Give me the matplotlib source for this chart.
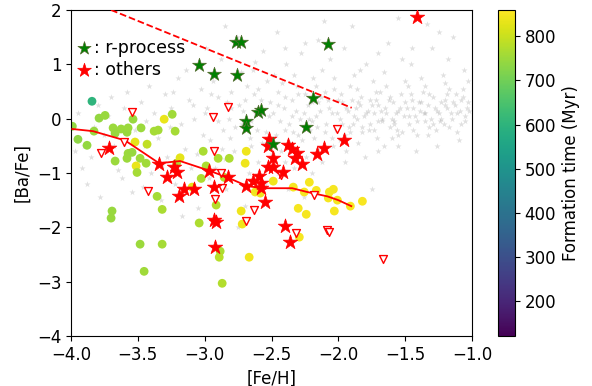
import matplotlib
matplotlib.use("Agg")
import matplotlib.pyplot as plt
import numpy as np

# background halo sample ([Fe/H], [Ba/Fe])
bg_feh = [-3.95, -3.9, -3.85, -3.92, -3.8, -3.75, -3.7, -3.65, -3.6, -3.55, -3.88, -3.78, -3.62, -3.58, -3.52, -3.72, -3.83, -3.97, -3.68, -3.54,
          -3.48, -3.45, -3.42, -3.4, -3.38, -3.35, -3.33, -3.3, -3.28, -3.25, -3.22, -3.2, -3.18, -3.15, -3.12, -3.1, -3.08, -3.05, -3.03, -3.01,
          -3.46, -3.36, -3.26, -3.14, -3.06, -3.44, -3.32, -3.17, -3.09, -3.24,
          -2.98, -2.96, -2.94, -2.92, -2.9, -2.88, -2.86, -2.84, -2.82, -2.8, -2.78, -2.76, -2.74, -2.72, -2.7, -2.68, -2.66, -2.64, -2.62, -2.6,
          -2.58, -2.56, -2.54, -2.52, -2.97, -2.93, -2.87, -2.83, -2.77, -2.73, -2.67, -2.63, -2.57, -2.53, -2.99, -2.85, -2.75, -2.65, -2.55, -2.95,
          -2.81, -2.71, -2.61, -2.51,
          -2.49, -2.47, -2.45, -2.43, -2.41, -2.39, -2.37, -2.35, -2.33, -2.31, -2.29, -2.27, -2.25, -2.23, -2.21, -2.19, -2.17, -2.15, -2.13, -2.11,
          -2.09, -2.07, -2.05, -2.03, -2.01, -2.48, -2.44, -2.4, -2.36, -2.32, -2.28, -2.24, -2.2, -2.16, -2.12, -2.08, -2.04, -2.46, -2.38, -2.3,
          -2.22, -2.14, -2.06, -2.42, -2.34, -2.26, -2.18, -2.1, -2.02, -2.45, -2.26, -2.12,
          -1.99, -1.97, -1.95, -1.93, -1.91, -1.89, -1.87, -1.85, -1.83, -1.81, -1.79, -1.77, -1.75, -1.73, -1.71, -1.69, -1.67, -1.65, -1.63, -1.61,
          -1.59, -1.57, -1.55, -1.53, -1.51, -1.98, -1.94, -1.9, -1.86, -1.82, -1.78, -1.74, -1.7, -1.66, -1.62, -1.58, -1.54, -1.96, -1.88, -1.8,
          -1.72, -1.64, -1.56, -1.52, -1.92, -1.84, -1.76, -1.68, -1.6, -1.75, -1.9,
          -1.49, -1.47, -1.45, -1.43, -1.41, -1.39, -1.37, -1.35, -1.33, -1.31, -1.29, -1.27, -1.25, -1.23, -1.21, -1.19, -1.17, -1.15, -1.13, -1.11,
          -1.09, -1.07, -1.05, -1.03, -1.48, -1.44, -1.4, -1.36, -1.32, -1.28, -1.24, -1.2, -1.16, -1.12, -1.08, -1.04, -1.46, -1.38, -1.3, -1.22,
          -1.14, -1.06, -1.42, -1.26, -1.1, -1.34, -1.18,
          -2.45, -2.4, -2.35, -2.3, -2.25, -2.2, -2.15, -2.1, -2.05, -2.0, -1.97, -1.94, -1.91, -1.88, -1.85, -1.82, -1.79, -1.76, -1.73, -1.7,
          -1.67, -1.64, -1.61, -1.58, -1.55, -1.52, -1.5, -1.47, -1.44, -1.41, -1.38, -1.35, -1.32, -1.29, -1.26, -1.23, -1.2, -1.17, -1.14, -1.11,
          -1.08, -1.05, -1.02, -1.99, -1.86, -1.72, -1.6, -1.46, -1.33, -1.19, -1.07, -2.33, -2.17, -2.03, -1.84, -1.66, -1.5, -1.35, -1.2, -1.03,
          -2.6, -2.7, -2.8, -2.9, -3.0, -2.65, -2.85, -2.5, -2.4, -2.2, -1.95, -1.7, -1.55, -2.62, -2.4, -2.15, -1.7, -1.45, -1.25, -1.55]
bg_bafe = [0.1, -0.5, -0.7, -0.9, 0.25, -0.3, 0.4, -0.95, 0.2, -0.6, -1.2, -1.45, -1.1, 0.5, -0.2, 0.05, -0.15, -0.6, -0.5, -1.35,
           0.3, -0.5, 0.6, -1.0, 0.1, -0.35, -1.5, 0.45, -0.7, 0.2, -1.2, 0.75, -0.1, -0.55, 0.35, -0.9, 0.0, -1.65, 0.55, -0.3,
           -1.25, 0.85, -0.15, 0.9, -0.65, -0.05, -0.85, -1.8, 0.25, 0.5,
           0.2, -0.4, 0.7, -0.9, 0.4, 1.1, -0.2, -1.3, 0.0, 0.5, -0.6, 1.5, 0.25, -0.1, -1.6, 0.6, -0.35, 0.9, 0.1, -0.8,
           0.35, 1.25, -0.25, 0.05, -1.1, 0.05, -0.55, 0.3, -0.15, 0.85, -1.0, 0.45, -0.45, 0.7, 1.3, 1.7, -2.0, -0.05, -1.2, 0.45,
           -0.35, 0.15, -0.2, 0.3,
           0.1, -0.3, 0.5, -0.6, 0.2, 1.0, -0.1, 0.35, -0.9, 0.6, 0.0, -0.4, 1.4, 0.25, -0.2, 0.75, 0.05, -0.55, 0.4, 1.8,
           -0.1, 0.2, -0.35, 0.55, 0.1, 0.8, -0.05, 0.4, -0.45, 0.15, 1.2, -0.7, 0.3, -0.15, 0.9, 0.35, -0.5, 1.6, -1.3, 0.45,
           0.0, 0.15, 1.1, 0.65, -0.25, 0.1, -0.35, 0.5, -0.2, -1.0, -1.45, -0.8,
           0.0, 0.3, -0.3, 0.15, 0.6, -0.1, 0.2, -0.45, 0.4, 0.05, 1.0, -0.2, 0.25, 0.1, -0.35, 0.5, 0.0, 0.2, 1.4, -0.15,
           0.3, 0.1, -0.3, 0.45, 0.05, 0.45, -0.6, 0.35, 0.0, -0.25, 0.15, 0.7, -0.05, -0.5, 0.35, -0.05, 0.2, 1.3, 0.8, -0.7,
           0.35, 0.6, -0.2, 1.1, -0.15, 0.25, -0.1, 0.15, 0.0, -1.3, 1.7,
           0.2, -0.1, 0.35, 0.05, -0.3, 0.15, 0.5, -0.05, 0.25, 0.0, 0.4, -0.2, 0.1, 0.3, -0.1, 0.2, 0.55, 0.0, 0.25, -0.25,
           0.15, 0.4, 0.05, 0.3, 0.6, -0.2, 0.3, 0.1, -0.15, 0.2, -0.05, 0.35, 0.1, 0.45, -0.1, 0.2, 1.0, 0.75, 1.3, 0.8,
           1.5, 0.9, -0.6, -0.5, -0.4, 1.75, 1.1,
           0.25, -0.2, 0.05, -0.3, 0.45, -0.05, 0.3, -0.25, 0.1, 0.35, -0.1, 0.2, -0.25, 0.05, 0.3, -0.15, 0.1, 0.35, -0.2, 0.25,
           -0.05, 0.1, 0.4, -0.1, 0.15, -0.25, 0.3, 0.05, 0.2, -0.05, 0.3, 0.1, 0.45, -0.1, 0.15, 0.0, 0.25, -0.15, 0.3, 0.1,
           0.35, -0.05, 0.15, -0.4, 0.55, 0.5, -0.35, 0.45, -0.3, 0.45, 0.55, 0.8, 0.6, 0.75, 0.9, 0.85, 0.7, 0.6, 0.65, 0.7,
           0.55, 0.35, 0.2, -0.05, 0.1, -0.5, -0.75, -0.65, -0.8, -1.0, -0.8, -0.6, -0.5, 1.05, 1.3, 1.45, 1.2, 1.3, 1.6, 1.85]

# dwarf stars with measured Ba, coloured by formation time
dw_feh = [-3.843, -3.79, -3.745, -3.99, -3.948, -3.88, -3.828, -3.685, -3.67, -3.625, -3.581, -3.573, -3.536, -3.476, -3.431, -3.521,
          -3.573, -3.543, -3.581, -3.483, -3.438, -3.513, -3.506, -3.67, -3.378, -3.348, -3.303, -3.243, -3.221, -3.21, -3.184,
          -3.011, -2.689, -2.899, -2.816, -2.697, -2.989, -3.026, -3.094, -2.854, -2.622, -2.584, -2.487, -3.356, -3.318, -3.693,
          -3.7, -3.483, -3.318, -3.453, -3.041, -2.914, -2.884, -2.891, -2.869, -2.727, -2.719, -2.667, -2.337, -2.217, -2.165,
          -2.255, -2.067, -2.037, -2.075, -2.007, -2.03, -1.91, -1.82, -2.3, -2.24, -2.292]
dw_bafe = [0.32, 0.01, 0.06, -0.14, -0.38, -0.49, -0.23, -0.17, -0.27, -0.19, -0.25, -0.17, -0.01, -0.17, -0.47, -0.43,
           -0.64, -0.62, -0.73, -0.73, -0.82, -0.87, -0.99, -0.78, -0.23, -0.21, -0.01, 0.08, -0.23, -0.82, -0.72,
           -0.6, -0.6, -0.73, -0.73, -0.82, -0.87, -1.1, -1.26, -1.08, -1.35, -1.37, -1.15, -1.43, -1.67, -1.7,
           -1.83, -2.31, -2.31, -2.81, -1.92, -1.59, -2.44, -2.55, -3.03, -1.7, -1.94, -2.55, -1.26, -1.17, -1.32,
           -1.35, -1.35, -1.3, -1.46, -1.5, -1.7, -1.61, -1.52, -1.65, -1.76, -2.18]
dw_time = [600, 740, 745, 740, 735, 740, 745, 750, 745, 750, 745, 750, 745, 750, 790, 830,
           750, 745, 750, 755, 755, 835, 760, 750, 760, 760, 835, 755, 760, 765, 830,
           765, 840, 770, 770, 840, 770, 770, 830, 775, 845, 845, 845, 760, 765, 745,
           745, 750, 760, 755, 770, 775, 770, 780, 775, 840, 840, 845, 850, 850, 850,
           850, 850, 850, 850, 850, 850, 852, 852, 850, 850, 850]

# r-process enhanced stars
rp_feh = [-3.041, -2.929, -2.757, -2.764, -2.727, -2.075, -2.187, -2.599, -2.577, -2.689, -2.689, -2.24, -2.487]
rp_bafe = [0.985, 0.82, 0.8, 1.41, 1.41, 1.37, 0.38, 0.12, 0.16, -0.05, -0.17, -0.16, -0.47]

# other stars
ot_feh = [-1.408, -3.715, -3.341, -3.228, -3.206, -3.281, -3.154, -3.079, -3.191, -2.966, -2.824, -2.929, -2.929, -2.914,
          -2.921, -2.689, -2.637, -2.592, -2.577, -2.577, -2.517, -2.524, -2.487, -2.524, -2.487, -2.412, -2.375, -2.345,
          -2.307, -2.322, -2.27, -2.157, -2.105, -1.955, -2.547, -2.397, -2.36]
ot_bafe = [1.87, -0.54, -0.84, -0.89, -0.99, -1.08, -1.3, -1.3, -1.43, -0.97, -1.08, -1.26, -1.87, -1.91,
           -2.37, -1.24, -1.15, -1.06, -1.19, -1.28, -0.38, -0.51, -0.73, -0.89, -0.89, -0.99, -0.49, -0.56,
           -0.64, -0.73, -0.84, -0.65, -0.54, -0.4, -1.54, -1.98, -2.27]

# upper limits
ul_feh = [-3.543, -3.775, -3.603, -2.936, -2.824, -2.929, -3.423, -2.876, -2.921, -2.869, -2.007, -2.629, -2.689,
          -2.18, -2.427, -2.315, -2.082, -2.067, -1.663]
ul_bafe = [0.12, -0.63, -0.43, 0.03, 0.21, -0.6, -1.34, -1.0, -1.48, -1.28, -0.19, -1.69, -1.89,
           -1.41, -1.04, -2.11, -2.04, -2.09, -2.59]

# running mean
run_feh = [-3.99, -3.835, -3.596, -3.341, -3.184, -2.974, -2.831, -2.682, -2.569, -2.345, -2.232, -2.082, -2.0, -1.903]
run_bafe = [-0.19, -0.23, -0.4, -0.82, -0.78, -0.95, -1.08, -1.24, -1.28, -1.28, -1.35, -1.43, -1.5, -1.61]

# dividing line
cut_feh = [-3.7, -1.9]
cut_bafe = [2.0, 0.2]

fig = plt.figure(figsize=(5.92, 3.86), dpi=100)
ax = fig.add_axes([71/592, 50/386, 401/592, 326/386])
cax = fig.add_axes([498/592, 50/386, 17/592, 326/386])

ax.scatter(bg_feh, bg_bafe, marker='*', s=22, color='0.6', alpha=0.3, linewidths=0, zorder=1)
sc = ax.scatter(dw_feh, dw_bafe, c=dw_time, cmap='viridis', vmin=120, vmax=860, s=40, linewidths=0, zorder=2)
ax.plot(run_feh, run_bafe, color='red', lw=1.3, zorder=3)
ax.plot(cut_feh, cut_bafe, color='red', ls='--', lw=1.3, zorder=3)
ax.scatter(ul_feh, ul_bafe, marker='v', s=32, facecolors='white', edgecolors='red', linewidths=1, zorder=4)
ax.scatter(ot_feh, ot_bafe, marker='*', s=120, color='red', linewidths=0.5, zorder=5, label=': others')
ax.scatter(rp_feh, rp_bafe, marker='*', s=110, color='green', edgecolors='darkolivegreen', linewidths=0.5, zorder=5,
           label=': r-process')

ax.set_xlim(-4, -1)
ax.set_ylim(-4, 2)
ax.set_xticks(np.arange(-4, -0.9, 0.5))
ax.set_yticks(np.arange(-4, 2.1, 1))
ax.tick_params(labelsize=12)
ax.set_xlabel('[Fe/H]', fontsize=12)
ax.set_ylabel('[Ba/Fe]', fontsize=12)

h, l = ax.get_legend_handles_labels()
ax.legend(h[::-1], l[::-1], loc='upper left', bbox_to_anchor=(-0.025, 0.96), frameon=False, fontsize=12.5,
          handlelength=0.8, handletextpad=0.2, markerscale=0.95, labelspacing=0.25)

cb = fig.colorbar(sc, cax=cax)
cb.set_label('Formation time (Myr)', fontsize=12)
cb.ax.tick_params(labelsize=12)
cb.set_ticks([200, 300, 400, 500, 600, 700, 800])

fig.savefig('out.png', dpi=100)
